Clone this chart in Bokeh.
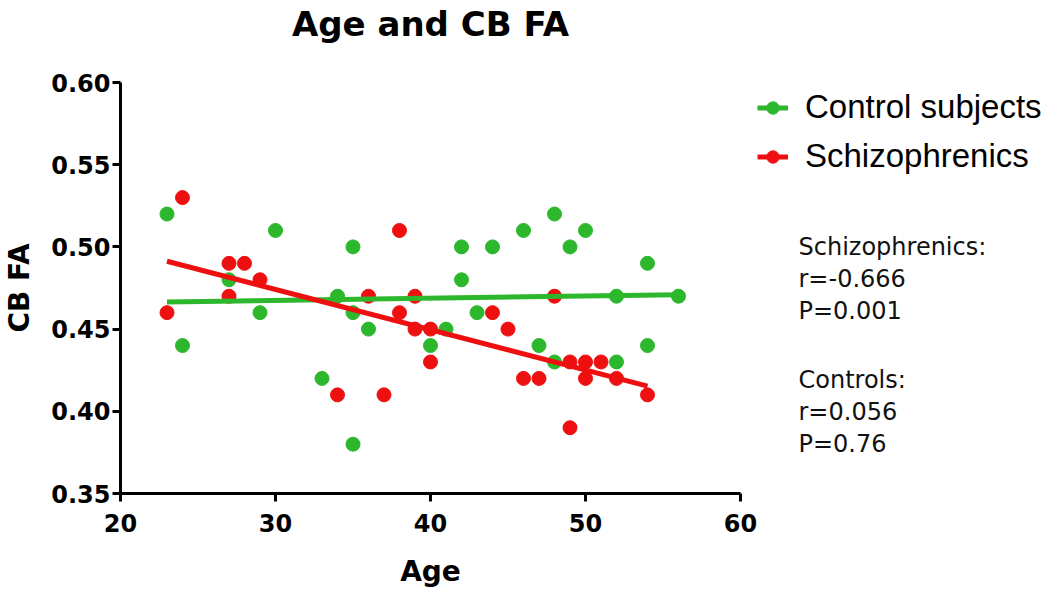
import numpy as np
from bokeh.plotting import figure
from bokeh.layouts import row
from bokeh.models import (Range1d, FixedTicker, Label, Legend, LegendItem,
                          NumeralTickFormatter, Title)
from bokeh.embed import file_html
from bokeh.resources import INLINE

# ---- data ----
ctrl_age = [23, 24, 27, 29, 30, 33, 34, 35, 35, 35, 36, 40, 41, 42, 42, 43, 44,
            46, 47, 48, 48, 49, 50, 52, 52, 54, 54, 56]
ctrl_fa = [0.52, 0.44, 0.48, 0.46, 0.51, 0.42, 0.47, 0.50, 0.46, 0.38, 0.45, 0.44, 0.45,
           0.50, 0.48, 0.46, 0.50, 0.51, 0.44, 0.52, 0.43, 0.50, 0.51, 0.47, 0.43, 0.49,
           0.44, 0.47]
sz_age = [23, 24, 27, 27, 28, 29, 34, 36, 37, 38, 38, 39, 39, 40, 40, 44, 45, 46, 47,
          48, 49, 49, 50, 50, 51, 52, 54]
sz_fa = [0.46, 0.53, 0.49, 0.47, 0.49, 0.48, 0.41, 0.47, 0.41, 0.51, 0.46, 0.47, 0.45,
         0.45, 0.43, 0.46, 0.45, 0.42, 0.42, 0.47, 0.43, 0.39, 0.43, 0.42, 0.43, 0.42, 0.41]

x_ticks = [20, 30, 40, 50, 60]
y_ticks = [0.35, 0.40, 0.45, 0.50, 0.55, 0.60]

series_labels = ["Control subjects", "Schizophrenics"]
title_text = "Age and CB FA"
x_label = "Age"
y_label = "CB FA"
stats_lines = ["Schizophrenics:", "r=-0.666", "P=0.001", "Controls:", "r=0.056", "P=0.76"]

GREEN = "#2cb72c"
RED = "#ee1010"

TOTAL_W, H = 1050, 590
MAIN_W = 757
FRAME_TOP, FRAME_BOTTOM = 82, 494

p = figure(width=MAIN_W, height=H,
           x_range=Range1d(20, 60), y_range=Range1d(0.35, 0.60),
           output_backend="svg", toolbar_location=None, title_location=None,
           min_border_left=120, min_border_right=MAIN_W - 740,
           min_border_top=FRAME_TOP, min_border_bottom=H - FRAME_BOTTOM)
p.grid.visible = False
p.outline_line_color = None
p.border_fill_color = "white"

# spacer (closest to the frame) then the real title (outermost)
p.add_layout(Title(text=" ", text_font_size="1px", standoff=36), "above")
p.add_layout(Title(text=title_text, align="center", offset=2, standoff=0,
                   text_font="DejaVu Sans", text_font_style="bold",
                   text_font_size="34px", text_color="black"), "above")

p.xaxis.ticker = FixedTicker(ticks=x_ticks)
p.yaxis.ticker = FixedTicker(ticks=y_ticks)
p.yaxis.formatter = NumeralTickFormatter(format="0.00")
for ax in (p.xaxis, p.yaxis):
    ax.axis_line_width = 3
    ax.axis_line_color = "black"
    ax.major_tick_line_width = 3
    ax.major_tick_line_color = "black"
    ax.major_tick_out = 8
    ax.major_tick_in = 0
    ax.minor_tick_line_color = None
    ax.major_label_text_font = "DejaVu Sans"
    ax.major_label_text_font_style = "bold"
    ax.major_label_text_font_size = "24px"
    ax.major_label_text_color = "black"
    ax.axis_label_text_font = "DejaVu Sans"
    ax.axis_label_text_font_style = "bold"
    ax.axis_label_text_font_size = "28px"
    ax.axis_label_text_color = "black"
p.xaxis.axis_label = x_label
p.yaxis.axis_label = y_label
p.xaxis.major_label_standoff = 12
p.xaxis.axis_label_standoff = 20
p.yaxis.major_label_standoff = 2
p.yaxis.axis_label_standoff = 12

# scatter
p.scatter(ctrl_age, ctrl_fa, size=14, fill_color=GREEN, line_color=GREEN)
p.scatter(sz_age, sz_fa, size=14, fill_color=RED, line_color=RED)

# regression lines computed from the data
def fit(xs, ys):
    b1, b0 = np.polyfit(np.array(xs, float), np.array(ys, float), 1)
    xx = [min(xs), max(xs)]
    return xx, [b0 + b1 * v for v in xx]

gx, gy = fit(ctrl_age, ctrl_fa)
rx, ry = fit(sz_age, sz_fa)
p.line(gx, gy, line_color=GREEN, line_width=5)
p.line(rx, ry, line_color=RED, line_width=5)

# ---- side panel: legend + statistics (frame aligned with the main frame;
#      data y = page pixel measured from the bottom) ----
SIDE_W = TOTAL_W - MAIN_W
q = figure(width=SIDE_W, height=H, x_range=Range1d(0, SIDE_W),
           y_range=Range1d(H - FRAME_BOTTOM, H - FRAME_TOP),
           output_backend="svg", toolbar_location=None, title_location=None,
           x_axis_type=None, y_axis_type=None,
           min_border_left=0, min_border_right=0,
           min_border_top=FRAME_TOP, min_border_bottom=H - FRAME_BOTTOM)
q.grid.visible = False
q.outline_line_color = None
q.border_fill_color = "white"

# hidden copies of the series, used only to draw the legend swatches
lg_l = q.line(gx, gy, line_color=GREEN, line_width=5, visible=False)
lg_s = q.scatter(ctrl_age, ctrl_fa, size=14, fill_color=GREEN, line_color=GREEN, visible=False)
lr_l = q.line(rx, ry, line_color=RED, line_width=5, visible=False)
lr_s = q.scatter(sz_age, sz_fa, size=14, fill_color=RED, line_color=RED, visible=False)

legend = Legend(items=[LegendItem(label=series_labels[0], renderers=[lg_l, lg_s]),
                       LegendItem(label=series_labels[1], renderers=[lr_l, lr_s])],
                location=(0, 318), border_line_color=None,
                background_fill_alpha=0, padding=0, margin=0,
                glyph_width=31, glyph_height=37, label_height=37,
                spacing=11, label_standoff=17,
                label_text_font="Liberation Sans", label_text_font_size="33px",
                label_text_color="black")
q.add_layout(legend)

stat_rows = [247, 279, 311, 380, 412, 444]
for t, yy in zip(stats_lines, stat_rows):
    q.add_layout(Label(x=41, y=H - yy, text=t, text_align="left", text_baseline="middle",
                       text_font="DejaVu Sans", text_font_size="24px", text_color="#111111"))

layout = row(p, q, spacing=0)
open("out.html", "w").write(file_html(layout, INLINE))
